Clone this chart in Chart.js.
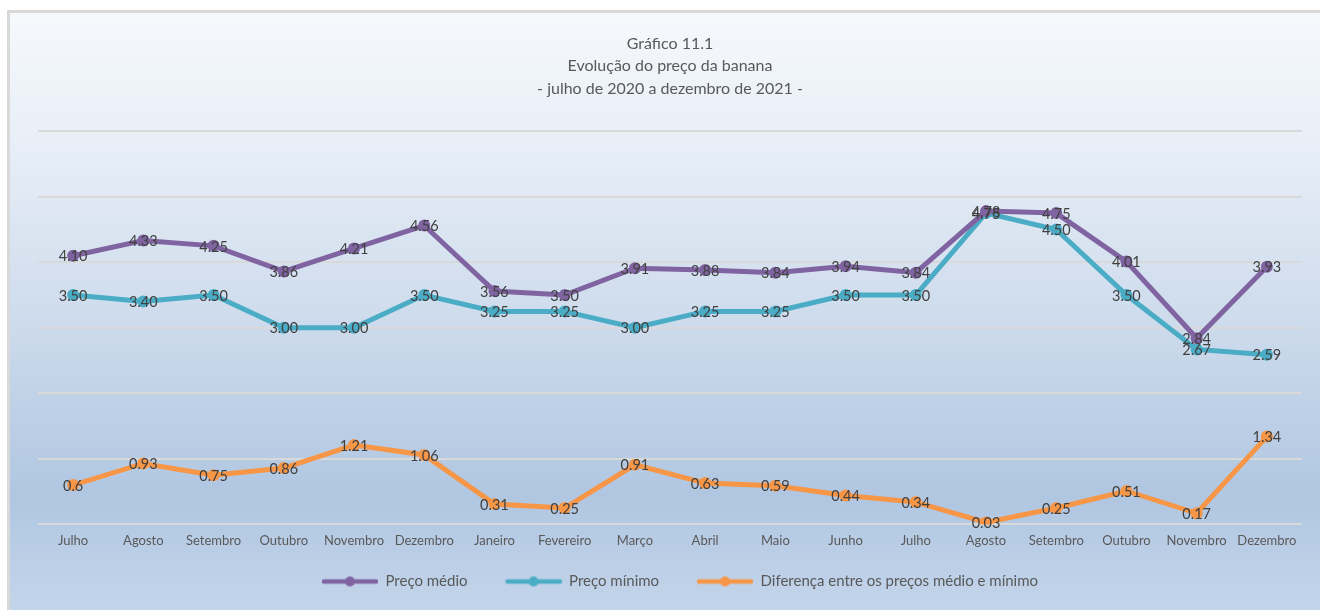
<!DOCTYPE html>
<html>
<head>
<meta charset="utf-8">
<script src="https://cdn.jsdelivr.net/npm/chart.js@4"></script>
<style>
  html, body { margin: 0; padding: 0; background: #ffffff; overflow: hidden; }
  #frame {
    position: absolute; left: 7px; top: 10px; width: 1330px; height: 620px;
    border: 3px solid #d9d9d9;
    background: linear-gradient(to bottom, #f6f9fc 0%, #e7eef7 22%, #cddbec 50%, #b0c6e1 78%, #c7d8ec 100%);
  }
  #grafico { position: absolute; left: 0; top: 0; }
</style>
</head>
<body>
<div id="frame"></div>
<canvas id="grafico" width="1320" height="610"></canvas>
<script>
const categories = ['Julho', 'Agosto', 'Setembro', 'Outubro', 'Novembro', 'Dezembro',
    'Janeiro', 'Fevereiro', 'Março', 'Abril', 'Maio', 'Junho',
    'Julho', 'Agosto', 'Setembro', 'Outubro', 'Novembro', 'Dezembro'];

const precoMedio = [4.10, 4.33, 4.25, 3.86, 4.21, 4.56, 3.56, 3.50, 3.91, 3.88, 3.84, 3.94, 3.84, 4.78, 4.75, 4.01, 2.84, 3.93];
const precoMinimo = [3.50, 3.40, 3.50, 3.00, 3.00, 3.50, 3.25, 3.25, 3.00, 3.25, 3.25, 3.50, 3.50, 4.75, 4.50, 3.50, 2.67, 2.59];
const diferenca = [0.6, 0.93, 0.75, 0.86, 1.21, 1.06, 0.31, 0.25, 0.91, 0.63, 0.59, 0.44, 0.34, 0.03, 0.25, 0.51, 0.17, 1.34];

const titleLines = ['Gráfico 11.1', 'Evolução do preço da banana', '- julho de 2020 a dezembro de 2021 -'];

const FONT = 'Lato, "Open Sans", sans-serif';

// little line + dot picture for the legend
function legendIcon(color) {
    const c = document.createElement('canvas');
    c.width = 76;
    c.height = 14;
    const g = c.getContext('2d');
    g.strokeStyle = color;
    g.lineWidth = 4.5;
    g.lineCap = 'round';
    g.beginPath();
    g.moveTo(22, 7);
    g.lineTo(74, 7);
    g.stroke();
    g.fillStyle = color;
    g.beginPath();
    g.arc(48, 7, 5, 0, Math.PI * 2);
    g.fill();
    return c;
}

// values written on top of every point
const pointLabels = {
    id: 'pointLabels',
    afterDatasetsDraw(chart) {
        const ctx = chart.ctx;
        ctx.save();
        ctx.font = '14.5px ' + FONT;
        ctx.fillStyle = '#404040';
        ctx.textAlign = 'center';
        ctx.textBaseline = 'middle';
        chart.data.datasets.forEach((ds, i) => {
            const meta = chart.getDatasetMeta(i);
            meta.data.forEach((pt, j) => {
                const v = ds.data[j];
                const txt = i === 2 ? String(v) : v.toFixed(2);
                ctx.fillText(txt, pt.x, pt.y + 1);
            });
        });
        ctx.restore();
    }
};

function serie(label, data, color) {
    return {
        label: label,
        data: data,
        borderColor: color,
        backgroundColor: color,
        borderWidth: 5,
        pointRadius: 6,
        pointBorderWidth: 0,
        pointBackgroundColor: color,
        tension: 0
    };
}

const icons = ['#8064a2', '#4bacc6', '#f79646'].map(legendIcon);

new Chart(document.getElementById('grafico').getContext('2d'), {
    type: 'line',
    data: {
        labels: categories,
        datasets: [
            serie('Preço médio', precoMedio, '#8064a2'),
            serie('Preço mínimo', precoMinimo, '#4bacc6'),
            serie('Diferença entre os preços médio e mínimo', diferenca, '#f79646')
        ]
    },
    options: {
        responsive: false,
        animation: false,
        layout: { padding: { left: 38, right: 18, top: 0, bottom: 11 } },
        plugins: {
            title: {
                display: true,
                text: titleLines,
                color: '#595959',
                font: { family: FONT, size: 16, weight: 'normal', lineHeight: 1.42 },
                padding: { top: 32, bottom: 31 }
            },
            legend: {
                position: 'bottom',
                labels: {
                    usePointStyle: true,
                    pointStyleWidth: 76,
                    padding: 18,
                    color: '#595959',
                    font: { family: FONT, size: 15 },
                    generateLabels(chart) {
                        const items = Chart.defaults.plugins.legend.labels.generateLabels(chart);
                        items.forEach((it, k) => { it.pointStyle = icons[k]; });
                        return items;
                    }
                }
            },
            tooltip: { enabled: false }
        },
        scales: {
            x: {
                offset: true,
                grid: { display: false },
                border: { display: false },
                ticks: {
                    color: '#595959',
                    font: { family: FONT, size: 13 },
                    padding: 1,
                    maxRotation: 0,
                    autoSkip: false
                },
                afterFit(scale) { scale.height += 6; }
            },
            y: {
                min: 0,
                max: 6,
                ticks: { display: false, stepSize: 1 },
                grid: { color: '#d9d9d9', lineWidth: 2, drawTicks: false },
                border: { display: false }
            }
        }
    },
    plugins: [pointLabels]
});
</script>
</body>
</html>
